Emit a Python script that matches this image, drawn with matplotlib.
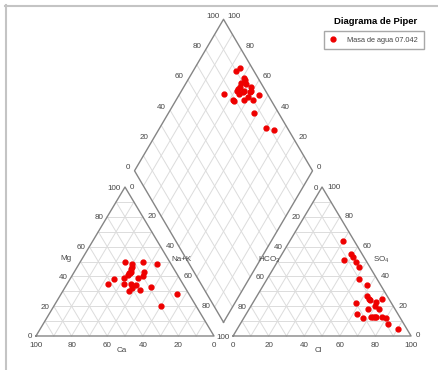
import numpy as np
import matplotlib
matplotlib.use('Agg')
import matplotlib.pyplot as plt
from matplotlib.lines import Line2D

plt.rcParams['font.family'] = ['Liberation Sans', 'DejaVu Sans']
plt.rcParams['mathtext.fontset'] = 'custom'
plt.rcParams['mathtext.rm'] = 'Liberation Sans'
plt.rcParams['mathtext.default'] = 'regular'

# cationes (%)
cat_ca  = [25, 15, 8, 23, 25, 18, 26, 31, 20, 23, 37, 42, 33, 29, 27, 19, 30, 26, 33, 7, 20, 22, 24, 27, 28]
cat_mg  = [50, 50, 48, 46, 43, 43, 42, 39, 40, 39, 38, 35, 35, 35, 34, 33, 32, 31, 30, 28, 20, 48, 45, 42, 41]
cat_nak = [25, 35, 44, 31, 32, 39, 32, 30, 40, 38, 25, 23, 32, 36, 39, 48, 38, 43, 37, 65, 60, 30, 31, 31, 31]

# aniones (%)
an_so4  = [64, 55, 53, 50, 51, 46, 38, 34, 27, 25, 24, 23, 25, 22, 20, 18, 18, 15, 12, 13, 13, 13, 13, 13, 12, 8, 5]
an_cl   = [30, 39, 41, 44, 37, 48, 52, 58, 62, 64, 65, 69, 71, 58, 70, 67, 73, 62, 67, 71, 72, 73, 74, 77, 80, 83, 90]
an_hco3 = [6, 6, 6, 6, 12, 6, 10, 8, 11, 11, 11, 8, 4, 20, 10, 15, 9, 23, 21, 16, 15, 14, 13, 10, 8, 9, 5]

# rombo: SO4+Cl y Ca+Mg (%)
dia_so4cl = [90, 93, 92, 92, 89, 91, 93, 85, 84, 87, 88, 92, 91, 76, 84, 87, 79, 79, 85, 88, 90, 95, 86, 88, 92]
dia_camg  = [76, 75, 69, 68, 69, 66, 62, 69, 69, 68, 65, 61, 61, 75, 67, 65, 68, 67, 62, 61, 57, 55, 52, 40, 35]

ticks = [0, 20, 40, 60, 80, 100]
serie = 'Masa de agua 07.042'

H = np.sqrt(3) / 2      # altura triangulos
HD = 0.8808             # altura de medio rombo
GAP = 0.107
X0_AN = 1 + GAP
XB_D = 1 + GAP / 2
Y0_D = 0.0797

GRID = '#dcdcdc'
EDGE = '#858585'
TXT = '#454545'
RED = '#ee0000'
FS = 5.8


def cat_xy(mg, nak):
    return (np.asarray(nak) + np.asarray(mg) / 2) / 100, np.asarray(mg) / 100 * H


def an_xy(so4, cl):
    return X0_AN + (np.asarray(cl) + np.asarray(so4) / 2) / 100, np.asarray(so4) / 100 * H


def dia_xy(a, b):
    a = np.asarray(a); b = np.asarray(b)
    return XB_D + (a - b) / 200, Y0_D + HD * (a + b) / 100


def seg(f, p, q, **kw):
    x1, y1 = f(*p)
    x2, y2 = f(*q)
    ax.plot([x1, x2], [y1, y2], **kw)


def lab(xy, s, dx, dy, ha, va='center', fs=FS):
    ax.annotate(s, xy=xy, xytext=(dx, dy), textcoords='offset pixels',
                ha=ha, va=va, fontsize=fs, color=TXT)


fig = plt.figure(figsize=(4.39, 3.70), dpi=100)
ax = fig.add_axes([0, 0, 1, 1])
ax.set_xlim(-0.2022, 2.264)
ax.set_ylim(-0.1977, 1.9535)
ax.axis('off')

gkw = dict(color=GRID, lw=0.7, zorder=1)
for f in range(10, 100, 10):
    # triangulo cationes
    seg(cat_xy, (f, 0), (f, 100 - f), **gkw)
    seg(cat_xy, (0, f), (100 - f, f), **gkw)
    seg(cat_xy, (0, 100 - f), (100 - f, 0), **gkw)
    # triangulo aniones
    seg(an_xy, (f, 0), (f, 100 - f), **gkw)
    seg(an_xy, (0, f), (100 - f, f), **gkw)
    seg(an_xy, (0, 100 - f), (100 - f, 0), **gkw)
    # rombo
    seg(dia_xy, (f, 0), (f, 100), **gkw)
    seg(dia_xy, (0, f), (100, f), **gkw)

ekw = dict(color=EDGE, lw=1.0, zorder=2)
x, y = cat_xy([0, 0, 100, 0], [0, 100, 0, 0])
ax.plot(x, y, **ekw)
x, y = an_xy([0, 0, 100, 0], [0, 100, 0, 0])
ax.plot(x, y, **ekw)
x, y = dia_xy([0, 100, 100, 0, 0], [0, 0, 100, 100, 0])
ax.plot(x, y, **ekw)

for v in ticks:
    s = str(v)
    lab(cat_xy(v, 0), s, -4, -1, 'right')
    lab(cat_xy(0, 100 - v), s, 0, -10, 'center')
    if v == 100:
        # comparte posicion con el 100 de HCO3
        lab(cat_xy(0, 100), s, 2, -2, 'left')
    else:
        lab(cat_xy(100 - v, v), s, 5, 0, 'left')
        lab(an_xy(100 - v, 0), s, -4, -1, 'right')
    lab(an_xy(0, v), s, 0, -10, 'center')
    lab(an_xy(v, 100 - v), s, 5, 0, 'left')
    lab(dia_xy(v, 100), s, -4, 3, 'right')
    lab(dia_xy(100, v), s, 4, 3, 'left')

lab(cat_xy(50, 0), 'Mg', -9, 3, 'right')
lab(cat_xy(0, 50), 'Ca', -3, -15, 'center')
lab(cat_xy(50, 50), 'Na+K', 2, 2, 'left')
lab(an_xy(50, 0), 'HCO$_3$', 3, 2, 'right')
lab(an_xy(50, 50), 'SO$_4$', 6, 2, 'left')
lab(an_xy(0, 50), 'Cl', -4, -15, 'center')

mkw = dict(ls='none', marker='o', ms=3.5, color=RED, mec=RED, zorder=5)
x, y = cat_xy(cat_mg, cat_nak)
ax.plot(x, y, **mkw)
x, y = an_xy(an_so4, an_cl)
ax.plot(x, y, **mkw)
x, y = dia_xy(dia_so4cl, dia_camg)
ax.plot(x, y, **mkw)

# leyenda
fig.text(375.5 / 439, 1 - 21.7 / 370, 'Diagrama de Piper', ha='center', va='center',
         fontsize=6.8, fontweight='bold', color='black')
h = Line2D([], [], **mkw)
leg = ax.legend([h], [serie], loc='upper left', bbox_to_anchor=(324.3 / 439, 1 - 31 / 370),
                bbox_transform=fig.transFigure, borderaxespad=0, fontsize=5.3,
                frameon=True, fancybox=False, framealpha=1, edgecolor='#a8a8a8',
                handlelength=0.8, handletextpad=1.6, borderpad=0.75)
leg.get_frame().set_linewidth(1.0)
for t in leg.get_texts():
    t.set_color(TXT)

# marco
fig.add_artist(Line2D([5 / 439, 1], [1 - 6 / 370, 1 - 6 / 370], transform=fig.transFigure,
                      color='#c4c4c4', lw=1.5))
fig.add_artist(Line2D([6 / 439, 6 / 439], [0, 1 - 5 / 370], transform=fig.transFigure,
                      color='#c4c4c4', lw=1.5))

fig.savefig('out.png', dpi=100)
